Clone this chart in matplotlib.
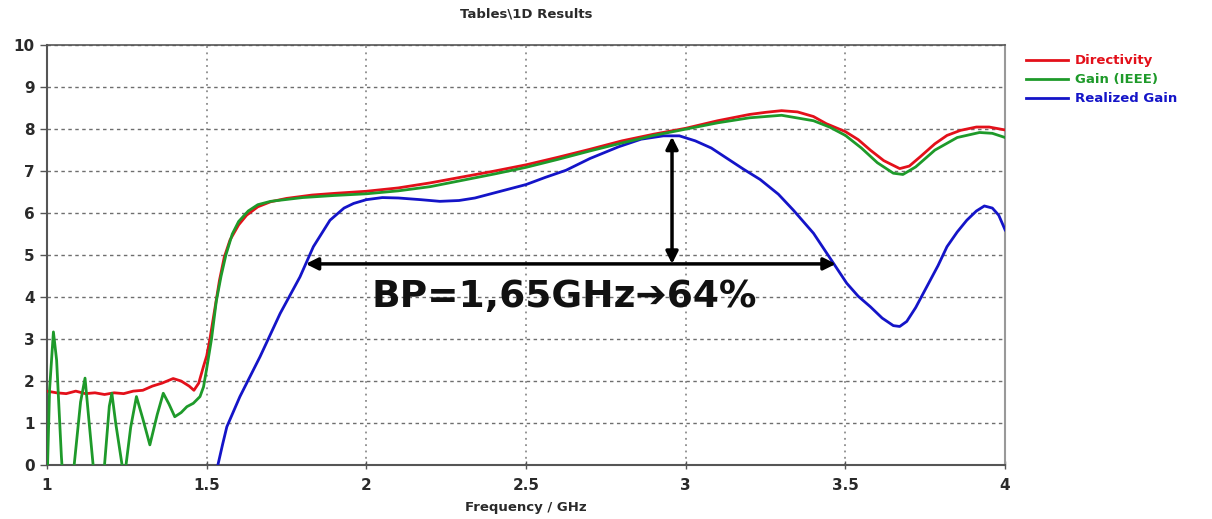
#!/usr/bin/env python3
"""Directivity / gain / realized gain versus frequency (1D results)."""

import matplotlib
matplotlib.use("Agg")
import matplotlib.pyplot as plt

# Directivity
dir_f = [1.00, 1.03, 1.06, 1.09, 1.12, 1.15, 1.18, 1.21, 1.24, 1.27, 1.30, 1.33,
         1.36, 1.395, 1.42, 1.445, 1.46, 1.475, 1.49, 1.50, 1.51, 1.525, 1.54,
         1.555, 1.573, 1.60, 1.625, 1.66, 1.70, 1.75, 1.83, 1.90, 2.00, 2.10,
         2.20, 2.30, 2.40, 2.50, 2.60, 2.70, 2.80, 2.90, 3.00, 3.10, 3.20, 3.25,
         3.30, 3.35, 3.40, 3.44, 3.50, 3.54, 3.578, 3.62, 3.67, 3.70, 3.734,
         3.78, 3.818, 3.86, 3.91, 3.95, 4.00]
dir_v = [1.76, 1.72, 1.70, 1.76, 1.70, 1.72, 1.68, 1.72, 1.70, 1.76, 1.78, 1.88,
         1.95, 2.06, 2.00, 1.88, 1.78, 1.95, 2.35, 2.60, 3.00, 3.70, 4.40,
         4.95, 5.36, 5.72, 5.95, 6.15, 6.27, 6.35, 6.43, 6.47, 6.52, 6.60,
         6.72, 6.86, 7.00, 7.15, 7.33, 7.52, 7.72, 7.88, 8.02, 8.20, 8.35, 8.40,
         8.44, 8.41, 8.30, 8.13, 7.94, 7.75, 7.50, 7.25, 7.06, 7.12, 7.34,
         7.65, 7.85, 7.97, 8.05, 8.05, 7.98]

# Gain (IEEE)
gain_f = [1.000, 1.008, 1.020, 1.030, 1.045, 1.060, 1.085, 1.105, 1.119, 1.132,
          1.148, 1.165, 1.180, 1.195, 1.203, 1.215, 1.235, 1.244, 1.262, 1.280,
          1.300, 1.322, 1.345, 1.364, 1.382, 1.400, 1.420, 1.438, 1.458, 1.479,
          1.490, 1.500, 1.515, 1.530, 1.545, 1.560, 1.580, 1.600, 1.630, 1.660,
          1.700, 1.800, 1.900, 2.000, 2.100, 2.200, 2.300, 2.400, 2.500, 2.600,
          2.700, 2.800, 2.900, 3.000, 3.100, 3.200, 3.300, 3.400, 3.450, 3.500,
          3.550, 3.600, 3.650, 3.680, 3.720, 3.780, 3.850, 3.920, 3.960, 4.000]
gain_v = [-0.5, 1.8, 3.17, 2.5, 0.2, -1.5, 0.0, 1.5, 2.07, 1.0,
          -0.3, -1.0, 0.0, 1.4, 1.71, 1.0, 0.0, -0.2, 0.9, 1.63,
          1.10, 0.48, 1.20, 1.71, 1.45, 1.15, 1.25, 1.39, 1.47, 1.63,
          1.86, 2.30, 3.00, 3.90, 4.50, 5.00, 5.50, 5.80, 6.05, 6.20,
          6.28, 6.37, 6.42, 6.46, 6.53, 6.63, 6.78, 6.93, 7.09, 7.28,
          7.48, 7.67, 7.85, 8.00, 8.15, 8.27, 8.33, 8.20, 8.05, 7.85,
          7.55, 7.20, 6.95, 6.92, 7.10, 7.50, 7.80, 7.92, 7.90, 7.80]

# Realized gain
real_f = [1.535, 1.550, 1.563, 1.604, 1.667, 1.730, 1.792, 1.834, 1.886, 1.930,
          1.960, 2.000, 2.050, 2.100, 2.170, 2.230, 2.290, 2.340, 2.400, 2.500,
          2.560, 2.625, 2.700, 2.790, 2.860, 2.930, 2.980, 3.030, 3.080, 3.130,
          3.180, 3.233, 3.290, 3.337, 3.400, 3.463, 3.504, 3.540, 3.578, 3.615,
          3.650, 3.670, 3.692, 3.720, 3.755, 3.790, 3.818, 3.850, 3.880, 3.910,
          3.935, 3.960, 3.980, 4.000]
real_v = [0.00, 0.50, 0.91, 1.63, 2.58, 3.61, 4.48, 5.20, 5.83, 6.12,
          6.23, 6.32, 6.37, 6.36, 6.32, 6.28, 6.30, 6.36, 6.48, 6.68,
          6.85, 7.02, 7.30, 7.58, 7.76, 7.84, 7.84, 7.72, 7.55, 7.30,
          7.05, 6.80, 6.45, 6.07, 5.52, 4.80, 4.33, 4.02, 3.77, 3.50,
          3.32, 3.30, 3.42, 3.75, 4.25, 4.75, 5.20, 5.55, 5.83, 6.05,
          6.17, 6.12, 5.95, 5.60]

# bandwidth annotation
bw_start, bw_stop, bw_level = 1.81, 3.47, 4.79
peak_f, peak_v = 2.957, 7.82
bw_label = "BP=1,65GHz\u279464%"

RED = "#e3101a"
GREEN = "#1e9a2a"
BLUE = "#1414c8"
HGRID = "#6e6e6e"
VGRID = "#8c8c8c"
TEXT = "#2a2a2a"


def main() -> None:
    plt.rcParams["font.family"] = ["DejaVu Sans"]
    fig = plt.figure(figsize=(12.12, 5.19), dpi=100)
    ax = fig.add_axes([0.0388, 0.104, 0.7905, 0.809])

    ax.plot(dir_f, dir_v, color=RED, lw=2.0, label="Directivity", zorder=3)
    ax.plot(gain_f, gain_v, color=GREEN, lw=2.0, label="Gain (IEEE)", zorder=4)
    ax.plot(real_f, real_v, color=BLUE, lw=2.0, label="Realized Gain", zorder=3)

    ax.set_xlim(1, 4)
    ax.set_ylim(0, 10)
    ax.set_xticks([1, 1.5, 2, 2.5, 3, 3.5, 4])
    ax.set_xticklabels(["1", "1.5", "2", "2.5", "3", "3.5", "4"])
    ax.set_yticks(range(0, 11))

    ax.grid(True, axis="y", color=HGRID, linestyle=(0, (2.5, 2.5)), linewidth=1.0)
    ax.grid(True, axis="x", color=VGRID, linestyle=(0, (1, 2.5)), linewidth=1.3)
    ax.set_axisbelow(True)

    for side in ("left", "bottom"):
        ax.spines[side].set_color("#555555")
        ax.spines[side].set_linewidth(1.5)
    ax.spines["top"].set_color("#555555")
    ax.spines["top"].set_linewidth(1.2)
    ax.spines["right"].set_color("#999999")
    ax.spines["right"].set_linewidth(1.5)

    ax.tick_params(axis="x", direction="inout", length=6, width=1, color="#555555",
                   labelsize=11, labelcolor=TEXT, pad=6)
    ax.tick_params(axis="y", direction="out", length=5, width=1, color="#555555",
                   labelsize=11, labelcolor=TEXT, pad=4)
    for lab in ax.get_xticklabels() + ax.get_yticklabels():
        lab.set_fontweight("bold")

    ax.set_xlabel("Frequency / GHz", fontsize=9.5, fontweight="bold", color=TEXT, labelpad=6)
    ax.set_title("Tables\\1D Results", fontsize=9.5, fontweight="bold", color=TEXT, pad=20)

    # bandwidth arrows and label
    ax.annotate("", xy=(bw_start, bw_level), xytext=(bw_stop, bw_level),
                arrowprops=dict(arrowstyle="<|-|>", color="black", lw=2.5,
                                mutation_scale=18, shrinkA=0, shrinkB=0), zorder=6)
    ax.annotate("", xy=(peak_f, bw_level), xytext=(peak_f, peak_v),
                arrowprops=dict(arrowstyle="<|-|>", color="black", lw=2.5,
                                mutation_scale=18, shrinkA=0, shrinkB=0), zorder=6)
    ax.text((bw_start + bw_stop) / 2 - 0.02, 4.0, bw_label, fontsize=27, fontweight="bold",
            color="#111111", ha="center", va="center", zorder=7)

    leg = ax.legend(loc="upper left", bbox_to_anchor=(1.012, 1.0), frameon=False,
                    handlelength=3.2, handletextpad=0.5, labelspacing=0.45,
                    prop={"size": 9.5, "weight": "bold"}, borderaxespad=0.3)
    for text, color in zip(leg.get_texts(), [RED, GREEN, BLUE]):
        text.set_color(color)

    fig.savefig("out.png", dpi=100, facecolor="white")
    plt.close(fig)


if __name__ == "__main__":
    main()
